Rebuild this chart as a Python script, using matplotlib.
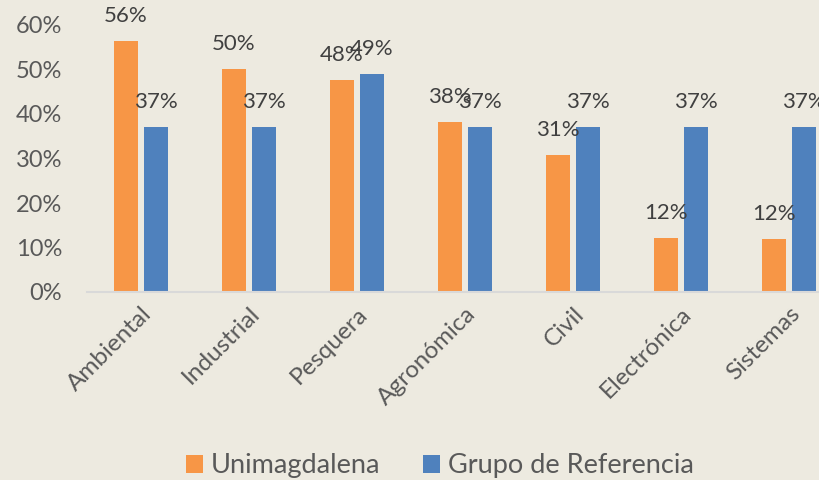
import numpy as np
import matplotlib.pyplot as plt
from matplotlib.ticker import PercentFormatter

categories = ["Ambiental", "Industrial", "Pesquera", "Agronómica", "Civil", "Electrónica", "Sistemas"]
unimag = [0.564, 0.501, 0.477, 0.383, 0.307, 0.122, 0.119]
referencia = [0.37, 0.37, 0.49, 0.37, 0.37, 0.37, 0.37]
series_names = ["Unimagdalena", "Grupo de Referencia"]

bg = "#EDEAE0"
orange = "#F79646"
blue = "#4F81BD"

plt.rcParams["font.family"] = ["Lato", "DejaVu Sans"]

fig = plt.figure(figsize=(8.2, 4.8), dpi=100, facecolor=bg)
ax = fig.add_axes([87 / 820, 188 / 480, 756 / 820, 267 / 480], facecolor=bg)

x = np.arange(len(categories))
w = 0.222
off = 0.139
b1 = ax.bar(x - off, unimag, w, color=orange, label=series_names[0])
b2 = ax.bar(x + off, referencia, w, color=blue, label=series_names[1])

for bars, vals in ((b1, unimag), (b2, referencia)):
    for rect, v in zip(bars, vals):
        ax.annotate(f"{round(v * 100):d}%", (rect.get_x() + rect.get_width() / 2, v),
                    xytext=(0, 18), textcoords="offset points", ha="center", va="center",
                    fontsize=16, color="#404040", annotation_clip=False)

ax.set_xlim(-0.5, len(categories) - 0.5)
ax.set_ylim(0, 0.6)
ax.set_yticks(np.arange(0, 0.61, 0.1))
ax.yaxis.set_major_formatter(PercentFormatter(1.0, decimals=0))
ax.set_xticks(x)
ax.set_xticklabels(categories, rotation=45, ha="right", rotation_mode="anchor", fontsize=17.5)
ax.tick_params(axis="both", length=0, labelcolor="#595959")
ax.tick_params(axis="y", pad=18, labelsize=17)
ax.tick_params(axis="x", pad=8)

for s in ("top", "right", "left"):
    ax.spines[s].set_visible(False)
ax.spines["bottom"].set_color("#D9D9D9")
ax.spines["bottom"].set_linewidth(1.5)

fig.legend(handles=[b1, b2], loc="center", bbox_to_anchor=(440 / 820, 1 - 466 / 480),
           ncol=2, frameon=False, fontsize=19.5, labelcolor="#595959",
           handlelength=0.6, handleheight=0.6, handletextpad=0.3, columnspacing=1.6)

fig.savefig("out.png", dpi=100, facecolor=bg)
